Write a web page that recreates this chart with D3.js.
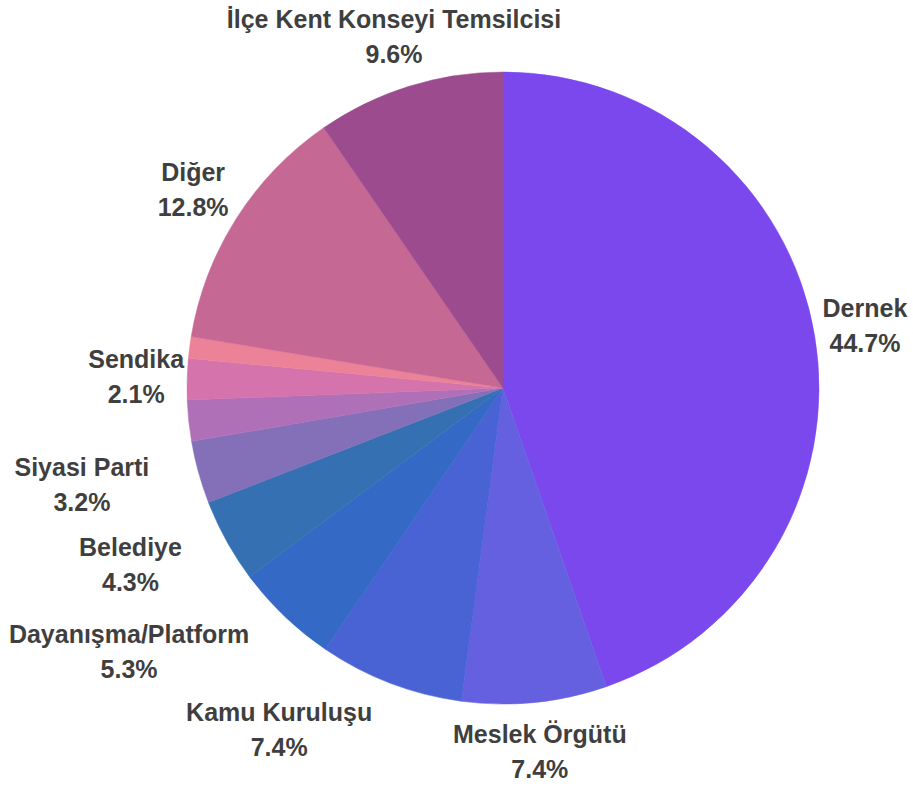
<!DOCTYPE html>
<html>
<head>
<meta charset="utf-8">
<script src="https://cdn.jsdelivr.net/npm/d3@7"></script>
<style>
  body { margin: 0; background: #fff; }
  text { font-family: "Liberation Sans", Arial, sans-serif; font-weight: bold; fill: #3f3f3f; }
</style>
</head>
<body>
<div id="chart"></div>
<script>
// slice data, clockwise from the top
var categories = ["Dernek", "Meslek Örgütü", "Kamu Kuruluşu", "Dayanışma/Platform", "Belediye",
                  "Siyasi Parti", "", "Sendika", "", "Diğer", "İlçe Kent Konseyi Temsilcisi"];
var values = [44.7, 7.4, 7.4, 5.3, 4.3, 3.2, 2.1, 2.1, 1.1, 12.8, 9.6];
var showLabel = [true, true, true, true, true, true, false, true, false, true, true];
var colors = ["#7b48ee", "#6560e0", "#4a63d4", "#3469c5", "#3571b2", "#8470b8",
              "#b070b8", "#d573ad", "#ec8297", "#c66894", "#9c4c8e"];

var width = 913, height = 786,
    cx = 503, cy = 388, radius = 316, labelR = 367;

var svg = d3.select("#chart")
  .append("svg")
    .attr("width", width)
    .attr("height", height);

var g = svg.append("g")
    .attr("transform", "translate(" + cx + "," + cy + ")");

var data = values.map(function(v, i) {
  return {name: categories[i], value: v, color: colors[i], show: showLabel[i]};
});

var pie = d3.pie().sort(null).value(function(d) { return d.value; });
var arc = d3.arc().innerRadius(0).outerRadius(radius);
var arcs = pie(data);

g.selectAll("path")
  .data(arcs)
  .enter()
  .append("path")
    .attr("d", arc)
    .attr("fill", function(d) { return d.data.color; })
    .attr("stroke", function(d) { return d.data.color; })
    .attr("stroke-width", 0.5);

// labels: centered on the mid angle, pushed outward if they hit the pie or an earlier label
var placed = [];

function hitsPie(b) {
  var nx = Math.max(b.x0, Math.min(0, b.x1));
  var ny = Math.max(b.y0, Math.min(0, b.y1));
  return Math.sqrt(nx * nx + ny * ny) < radius;
}
function hitsOther(b) {
  return placed.some(function(p) {
    return b.x0 < p.x1 && b.x1 > p.x0 && b.y0 < p.y1 && b.y1 > p.y0;
  });
}

arcs.forEach(function(d) {
  if (!d.data.show) return;
  var a = (d.startAngle + d.endAngle) / 2;
  var ax = labelR * Math.sin(a), ay = -labelR * Math.cos(a);

  var lab = g.append("text")
    .attr("font-size", 25)
    .attr("text-anchor", "middle");
  lab.append("tspan").attr("x", 0).attr("y", -10).text(d.data.name);
  lab.append("tspan").attr("x", 0).attr("y", 25).text(d3.format(".1f")(d.data.value) + "%");

  var bb = lab.node().getBBox();
  var w = bb.width;
  var box = {x0: ax - w / 2, x1: ax + w / 2, y0: ay - 27, y1: ay + 29};
  var tx = ax;
  if (hitsPie(box) || hitsOther(box)) {
    tx = ax < 0 ? ax - w / 2 : ax + w / 2;
    box = {x0: tx - w / 2, x1: tx + w / 2, y0: box.y0, y1: box.y1};
  }
  lab.attr("transform", "translate(" + tx + "," + ay + ")");
  placed.push(box);
});
</script>
</body>
</html>
